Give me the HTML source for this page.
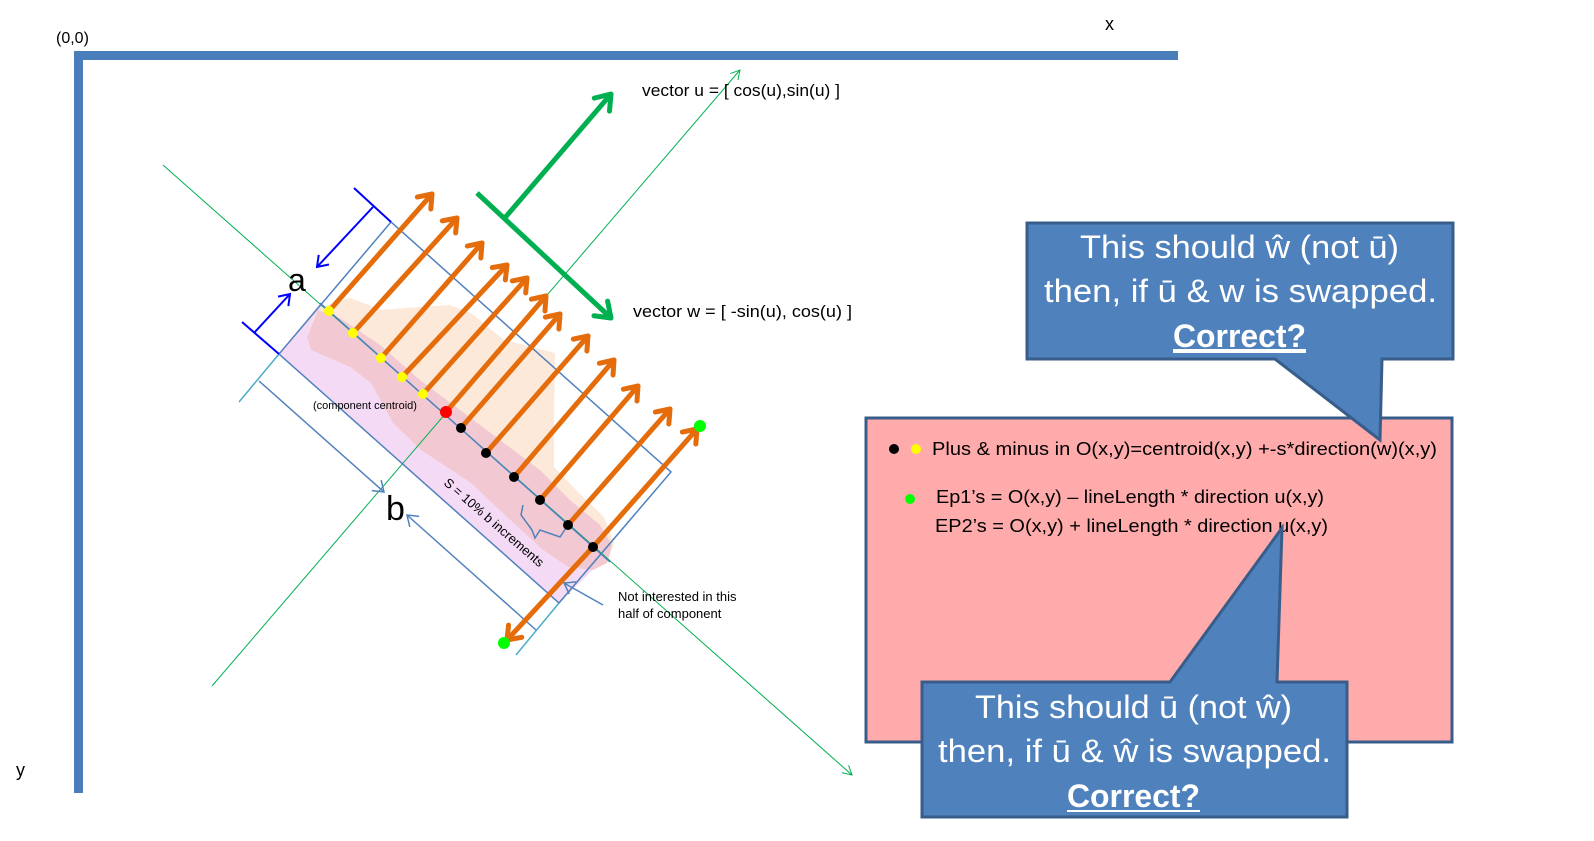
<!DOCTYPE html>
<html><head><meta charset="utf-8"><style>
html,body{margin:0;padding:0;background:#fff;}
svg{display:block;}
text{font-family:"Liberation Sans",sans-serif;}
</style></head><body>
<svg width="1594" height="841" viewBox="0 0 1594 841" xmlns="http://www.w3.org/2000/svg">
<defs>
<marker id="oh" markerWidth="30" markerHeight="30" refX="15" refY="15" orient="auto" markerUnits="userSpaceOnUse">
<path d="M3,6 L15,15 L3,24" fill="none" stroke="#E46C0A" stroke-width="5" stroke-linecap="round" stroke-linejoin="round"/></marker>
<marker id="gh" markerWidth="34" markerHeight="34" refX="17" refY="17" orient="auto" markerUnits="userSpaceOnUse">
<path d="M3,7 L17,17 L3,27" fill="none" stroke="#00B050" stroke-width="5" stroke-linecap="round" stroke-linejoin="round"/></marker>
<marker id="th" markerWidth="20" markerHeight="20" refX="10" refY="10" orient="auto" markerUnits="userSpaceOnUse">
<path d="M1,5 L10,10 L1,15" fill="none" stroke="#00B050" stroke-width="1"/></marker>
<marker id="bh" markerWidth="24" markerHeight="24" refX="12" refY="12" orient="auto" markerUnits="userSpaceOnUse">
<path d="M2,5 L12,12 L2,19" fill="none" stroke="#0000FF" stroke-width="2"/></marker>
<marker id="lh" markerWidth="24" markerHeight="24" refX="12" refY="12" orient="auto" markerUnits="userSpaceOnUse">
<path d="M2,5 L12,12 L2,19" fill="none" stroke="#4F81BD" stroke-width="1.5"/></marker>
</defs>

<!-- axes -->
<rect x="74" y="51" width="1104" height="9" fill="#4A7EBB"/>
<rect x="74" y="51" width="9" height="742" fill="#4A7EBB"/>
<text x="56" y="43" font-size="16">(0,0)</text>
<text x="1105" y="30" font-size="18">x</text>
<text x="16" y="776" font-size="18">y</text>

<!-- regions -->
<polygon points="320,303 279,354 559,603 605,558" fill="#F5DAF5"/>
<polygon points="321,307 350,298 382,310 418,307 450,305 471,313 504,340 532,347 555,353 554,417 554,467 579,493 604,517 614,543 607,563 593,570 568,567 543,550 507,517 471,483 421,450 393,423 371,383 350,367 311,350 307,337 314,317" fill="#FDE9D9"/>
<polygon points="318,310 340,318 380,345 420,380 460,410 500,440 540,470 570,500 600,525 612,545 607,563 593,570 568,567 543,550 507,517 471,483 421,450 393,423 371,383 350,367 311,350 307,337" fill="#F2C9D3"/>

<!-- thin green lines -->
<line x1="163" y1="165" x2="852" y2="775" stroke="#00B050" stroke-width="1" marker-end="url(#th)"/>
<line x1="212" y1="686" x2="740" y2="70" stroke="#00B050" stroke-width="1" marker-end="url(#th)"/>

<!-- rectangle -->
<polygon points="391,222 279,354 559,603 671,472" fill="none" stroke="#4F81BD" stroke-width="1.5"/>
<line x1="320" y1="303" x2="610" y2="562" stroke="#4F81BD" stroke-width="1.5"/>
<line x1="279" y1="354" x2="239" y2="402" stroke="#4BACC6" stroke-width="1.5"/>
<line x1="559" y1="603" x2="516" y2="655" stroke="#4BACC6" stroke-width="1.5"/>

<!-- blue caps -->
<line x1="354" y1="188" x2="391" y2="222" stroke="#0000FF" stroke-width="2"/>
<line x1="373" y1="207" x2="317" y2="267" stroke="#0000FF" stroke-width="2" marker-end="url(#bh)"/>
<line x1="242" y1="322" x2="279" y2="354" stroke="#0000FF" stroke-width="2"/>
<line x1="254" y1="333" x2="290" y2="294" stroke="#0000FF" stroke-width="2" marker-end="url(#bh)"/>
<text x="288" y="291" font-size="32">a</text>

<!-- b dimension -->
<line x1="259" y1="381" x2="384" y2="492" stroke="#4F81BD" stroke-width="1.5" marker-end="url(#lh)"/>
<line x1="536" y1="630" x2="407" y2="515" stroke="#4F81BD" stroke-width="1.5" marker-end="url(#lh)"/>
<text x="386" y="520" font-size="34">b</text>

<!-- brace -->
<polyline points="523,505 521,515 532,530 535,538 540,530 560,537 566,528" fill="none" stroke="#4F81BD" stroke-width="1.5"/>

<text transform="translate(443,484) rotate(41)" font-size="13">S = 10% b increments</text>
<text x="313" y="409" font-size="11">(component centroid)</text>

<!-- pointer -->
<line x1="603" y1="605" x2="564" y2="583" stroke="#4F81BD" stroke-width="1.5" marker-end="url(#lh)"/>
<text x="618" y="601" font-size="13">Not interested in this</text>
<text x="618" y="618" font-size="13">half of component</text>

<!-- orange arrows -->
<g stroke="#E46C0A" stroke-width="5" fill="none" stroke-linecap="round">
<line x1="329" y1="311" x2="432" y2="194" marker-end="url(#oh)"/>
<line x1="353" y1="333" x2="457" y2="218" marker-end="url(#oh)"/>
<line x1="381" y1="358" x2="482" y2="243" marker-end="url(#oh)"/>
<line x1="402" y1="377" x2="507" y2="265" marker-end="url(#oh)"/>
<line x1="423" y1="394" x2="527" y2="278" marker-end="url(#oh)"/>
<line x1="446" y1="412" x2="546" y2="296" marker-end="url(#oh)"/>
<line x1="461" y1="428" x2="560" y2="314" marker-end="url(#oh)"/>
<line x1="486" y1="453" x2="588" y2="336" marker-end="url(#oh)"/>
<line x1="514" y1="477" x2="614" y2="360" marker-end="url(#oh)"/>
<line x1="540" y1="500" x2="638" y2="386" marker-end="url(#oh)"/>
<line x1="568" y1="525" x2="670" y2="409" marker-end="url(#oh)"/>
<line x1="593" y1="547" x2="697" y2="429" marker-end="url(#oh)"/>
<line x1="593" y1="547" x2="507" y2="640" marker-end="url(#oh)"/>
</g>

<!-- dots -->
<g fill="#FFFF00">
<circle cx="329" cy="311" r="5"/><circle cx="353" cy="333" r="5"/><circle cx="381" cy="358" r="5"/><circle cx="402" cy="377" r="5"/><circle cx="423" cy="394" r="5"/>
</g>
<circle cx="446" cy="412" r="6" fill="#FF0000"/>
<g fill="#000">
<circle cx="461" cy="428" r="5"/><circle cx="486" cy="453" r="5"/><circle cx="514" cy="477" r="5"/><circle cx="540" cy="500" r="5"/><circle cx="568" cy="525" r="5"/><circle cx="593" cy="547" r="5"/>
</g>
<circle cx="700" cy="426" r="6" fill="#00FF00"/>
<circle cx="504" cy="643" r="6" fill="#00FF00"/>

<!-- green vectors -->
<line x1="503" y1="220" x2="611" y2="94" stroke="#00B050" stroke-width="5" marker-end="url(#gh)"/>
<line x1="477" y1="193" x2="611" y2="318" stroke="#00B050" stroke-width="5" marker-end="url(#gh)"/>
<text x="642" y="96" font-size="17" textLength="198" lengthAdjust="spacingAndGlyphs">vector u = [ cos(u),sin(u)  ]</text>
<text x="633" y="317" font-size="17" textLength="219" lengthAdjust="spacingAndGlyphs">vector w = [  -sin(u), cos(u)  ]</text>

<!-- pink box -->
<rect x="866" y="418" width="586" height="324" fill="#FFAAAB" stroke="#385D8A" stroke-width="3"/>
<circle cx="894" cy="449" r="5" fill="#000"/>
<circle cx="916" cy="449" r="5" fill="#FFFF00"/>
<text x="932" y="455" font-size="18" textLength="505" lengthAdjust="spacingAndGlyphs">Plus &amp; minus in O(x,y)=centroid(x,y) +-s*direction(w)(x,y)</text>
<circle cx="910" cy="499" r="5" fill="#00FF00"/>
<text x="936" y="503" font-size="18" textLength="388" lengthAdjust="spacingAndGlyphs">Ep1’s = O(x,y) – lineLength * direction u(x,y)</text>
<text x="935" y="532" font-size="18" textLength="393" lengthAdjust="spacingAndGlyphs">EP2’s  = O(x,y) + lineLength * direction u(x,y)</text>

<!-- top callout -->
<path d="M1027,223 L1453,223 L1453,359 L1382,359 L1380,440 L1275,359 L1027,359 Z" fill="#4F81BD" stroke="#385D8A" stroke-width="3" stroke-linejoin="miter"/>
<g fill="#fff" font-size="32">
<text x="1080" y="258" textLength="319" lengthAdjust="spacingAndGlyphs">This should ŵ (not ū)</text>
<text x="1044" y="302" textLength="393" lengthAdjust="spacingAndGlyphs">then, if ū &amp; w is swapped.</text>
<text x="1173" y="347" font-weight="bold" text-decoration="underline" textLength="133" lengthAdjust="spacingAndGlyphs">Correct?</text>
</g>
<line x1="1173" y1="352" x2="1306" y2="352" stroke="#fff" stroke-width="2"/>

<!-- bottom callout -->
<path d="M922,682 L1170,682 L1282,528 L1277,682 L1347,682 L1347,817 L922,817 Z" fill="#4F81BD" stroke="#385D8A" stroke-width="3"/>
<g fill="#fff" font-size="32">
<text x="975" y="718" textLength="317" lengthAdjust="spacingAndGlyphs">This should ū (not ŵ)</text>
<text x="938" y="762" textLength="393" lengthAdjust="spacingAndGlyphs">then, if ū &amp; ŵ is swapped.</text>
<text x="1067" y="807" font-weight="bold" textLength="133" lengthAdjust="spacingAndGlyphs">Correct?</text>
</g>
<line x1="1067" y1="811" x2="1200" y2="811" stroke="#fff" stroke-width="2"/>
</svg>
</body></html>
